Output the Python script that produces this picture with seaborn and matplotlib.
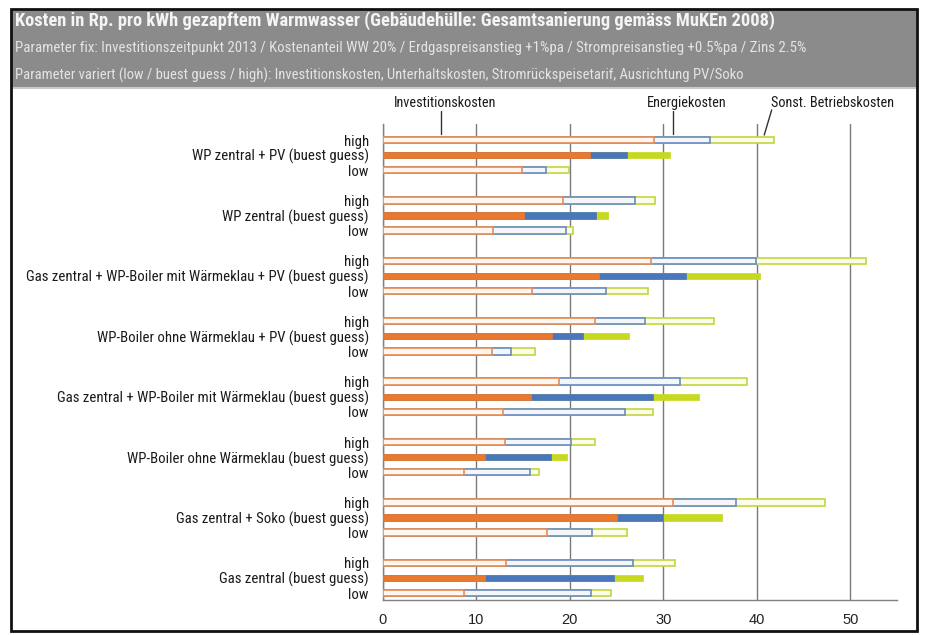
import matplotlib
matplotlib.use("Agg")
import matplotlib.pyplot as plt
from matplotlib import font_manager
from matplotlib.patches import Rectangle
from matplotlib.lines import Line2D
import pandas as pd
import seaborn as sns

# Variants, top to bottom
categories = [
    "WP zentral + PV",
    "WP zentral",
    "Gas zentral + WP-Boiler mit Wärmeklau + PV",
    "WP-Boiler ohne Wärmeklau + PV",
    "Gas zentral + WP-Boiler mit Wärmeklau",
    "WP-Boiler ohne Wärmeklau",
    "Gas zentral + Soko",
    "Gas zentral",
]
scenarios = ["high", "buest guess", "low"]

# Cost components in Rp./kWh for each variant
invest_high = [29.0, 19.3, 28.7, 22.7, 18.9, 13.1, 31.0, 13.2]
invest_best = [22.2, 15.1, 23.1, 18.1, 15.9, 10.9, 25.1, 10.9]
invest_low = [14.9, 11.8, 16.0, 11.7, 12.9, 8.7, 17.6, 8.7]

energy_high = [6.0, 7.7, 11.2, 5.3, 12.9, 7.0, 6.8, 13.6]
energy_best = [3.9, 7.7, 9.3, 3.3, 13.0, 7.1, 4.9, 13.8]
energy_low = [2.6, 7.8, 7.9, 2.0, 13.0, 7.0, 4.8, 13.6]

other_high = [6.8, 2.1, 11.8, 7.4, 7.2, 2.6, 9.5, 4.5]
other_best = [4.6, 1.3, 8.0, 4.9, 4.9, 1.7, 6.3, 3.1]
other_low = [2.4, 0.7, 4.5, 2.6, 3.0, 1.0, 3.7, 2.1]

x_ticks = [0, 10, 20, 30, 40, 50]

title = ("Kosten in Rp. pro kWh gezapftem Warmwasser "
         "(Gebäudehülle: Gesamtsanierung gemäss MuKEn 2008)")
subtitle_1 = ("Parameter fix: Investitionszeitpunkt 2013 / Kostenanteil WW 20% / "
              "Erdgaspreisanstieg +1%pa / Strompreisanstieg +0.5%pa / Zins 2.5%")
subtitle_2 = ("Parameter variert (low / buest guess / high): Investitionskosten, "
              "Unterhaltskosten, Stromrückspeisetarif, Ausrichtung PV/Soko")

# ---------------------------------------------------------------------------
records = []
series = {
    "high": (invest_high, energy_high, other_high),
    "buest guess": (invest_best, energy_best, other_best),
    "low": (invest_low, energy_low, other_low),
}
for g, cat in enumerate(categories):
    for s, scen in enumerate(scenarios):
        inv, ene, oth = (arr[g] for arr in series[scen])
        records.append({
            "row": g * 4 + s,
            "scenario": scen,
            "label": f"{cat} (buest guess)" if scen == "buest guess" else scen,
            "invest": inv,
            "invest_energy": inv + ene,
            "total": inv + ene + oth,
        })
df = pd.DataFrame(records)

sns.set_style("white")

# Prefer a narrow sans face when one is installed
installed = {f.name for f in font_manager.fontManager.ttflist}
narrow_choices = ["Liberation Sans Narrow", "Arial Narrow", "DejaVu Sans Condensed",
                  "Roboto Condensed", "Open Sans Condensed", "Noto Sans Condensed"]
narrow = [n for n in narrow_choices if n in installed][:1]
family = narrow + ["Liberation Sans", "DejaVu Sans"]
plt.rcParams["font.family"] = family

W, H = 928, 635
fig = plt.figure(figsize=(W / 100, H / 100), dpi=100)


def fx(px):
    return px / W


def fy(py):
    return 1 - py / H


ax = fig.add_axes([fx(382.7), fy(600), fx(897) - fx(382.7), fy(124) - fy(600)])

solid = {"total": "#c6d81f", "invest_energy": "#4a76bb", "invest": "#e8792f"}
edge = {"total": "#c2d640", "invest_energy": "#6a8cc0", "invest": "#e98c55"}
tint = {"total": "#fbfde9", "invest_energy": "#f3f7fc", "invest": "#fef6f0"}
best_rows = set(df.loc[df["scenario"] == "buest guess", "row"])

# Stacked bars: draw the cumulative totals from longest to shortest
for col in ["total", "invest_energy", "invest"]:
    n_before = len(ax.patches)
    sns.barplot(data=df, x=col, y="row", orient="y", native_scale=True,
                width=0.42, errorbar=None, color=solid[col], ax=ax,
                zorder=3)
    for p in ax.patches[n_before:]:
        r = int(round(p.get_y() + p.get_height() / 2))
        if r in best_rows:
            p.set_facecolor(solid[col])
            p.set_edgecolor(solid[col])
            p.set_linewidth(0.5)
        else:
            p.set_facecolor(tint[col])
            p.set_edgecolor(edge[col])
            p.set_linewidth(1.2)
        p.set_zorder(3)

ax.set_xlim(0, 55)
ax.set_ylim(30.46, -1.06)
ax.set_xticks(x_ticks)
ax.set_xticklabels([str(t) for t in x_ticks], family=["Liberation Sans", "DejaVu Sans"],
                   fontsize=10.5, color="#222222")
ax.set_yticks(df["row"].tolist())
ax.set_yticklabels(df["label"].tolist(), fontsize=11, color="#1a1a1a")
ax.tick_params(axis="y", length=0, pad=10)
ax.tick_params(axis="x", direction="inout", length=6, width=1, color="#808080", pad=6)
ax.set_xlabel("")
ax.set_ylabel("")
ax.grid(axis="x", color="#7a7a7a", linewidth=1, zorder=1)
ax.grid(axis="y", visible=False)
ax.set_axisbelow(True)
for side in ["top", "right"]:
    ax.spines[side].set_visible(False)
for side in ["left", "bottom"]:
    ax.spines[side].set_color("#808080")
    ax.spines[side].set_linewidth(1)

# Component labels with leader lines
label_kw = dict(fontsize=11, color="#1a1a1a", ha="center", va="center",
                annotation_clip=False)
comp_labels = [
    ax.annotate("Investitionskosten", xy=(6.7, -2.45), **label_kw),
    ax.annotate("Energiekosten", xy=(32.5, -2.45), **label_kw),
    ax.annotate("Sonst. Betriebskosten", xy=(48.1, -2.45), **label_kw),
]
for xs, ys in [((6.2, 6.2), (-1.92, -0.40)),
               ((31.0, 31.0), (-1.92, -0.40)),
               ((41.6, 40.8), (-1.99, -0.33))]:
    ax.add_line(Line2D(xs, ys, color="#333333", linewidth=1, clip_on=False, zorder=5))

# Header band with title and parameter lines
fig.patches.append(Rectangle((fx(12), fy(88)), fx(917) - fx(12), fy(10) - fy(88),
                             transform=fig.transFigure, facecolor="#8b8b8b",
                             edgecolor="none", zorder=0))
fig.lines.append(Line2D([fx(12), fx(917)], [fy(88), fy(88)], transform=fig.transFigure,
                        color="#c9c9c9", linewidth=1.5))
t_title = fig.text(fx(15), fy(21), title, fontsize=12.5, fontweight="bold",
                   color="#f4f4f4", ha="left", va="center")
t_sub1 = fig.text(fx(15), fy(48), subtitle_1, fontsize=10, color="#e4e4e4",
                  ha="left", va="center")
t_sub2 = fig.text(fx(15), fy(75), subtitle_2, fontsize=10, color="#e4e4e4",
                  ha="left", va="center")

# Outer frame
fig.patches.append(Rectangle((fx(11), fy(631)), fx(917) - fx(11), fy(9) - fy(631),
                             transform=fig.transFigure, facecolor="none",
                             edgecolor="#111111", linewidth=2, zorder=10))

# Scale the text sizes so each text block spans its intended width
fig.canvas.draw()
renderer = fig.canvas.get_renderer()


def width_px(t):
    return t.get_window_extent(renderer).width


ylab_w = max(width_px(t) for t in ax.get_yticklabels())
ax.tick_params(axis="y", labelsize=11 * 340 / ylab_w)
comp_size = 11 * 123 / width_px(comp_labels[2])
for t in comp_labels:
    t.set_fontsize(comp_size)
for t, target in [(t_title, 760), (t_sub1, 782), (t_sub2, 718)]:
    t.set_fontsize(t.get_fontsize() * target / width_px(t))

fig.savefig("out.png", dpi=100, facecolor="white")
